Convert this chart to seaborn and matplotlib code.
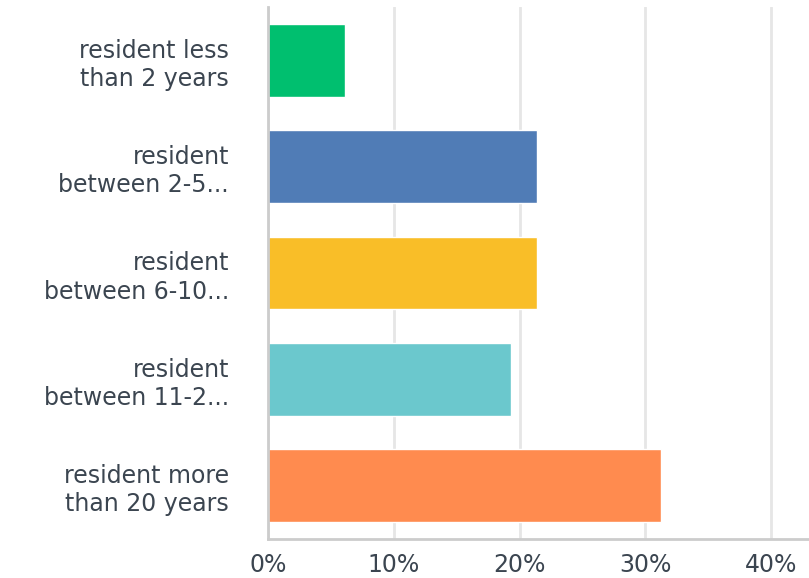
import matplotlib
matplotlib.use("Agg")
import matplotlib.pyplot as plt
import seaborn as sns
import pandas as pd

categories = [
    "resident less\nthan 2 years",
    "resident\nbetween 2-5...",
    "resident\nbetween 6-10...",
    "resident\nbetween 11-2...",
    "resident more\nthan 20 years",
]
values = [6.1, 21.4, 21.4, 19.3, 31.2]
colors = ["#00bf6f", "#507cb6", "#f9be28", "#6bc8cd", "#ff8b4f"]
xticks = [0, 10, 20, 30, 40]
xtick_labels = ["0%", "10%", "20%", "30%", "40%"]

sns.set_style("white")
plt.rcParams['font.family'] = ['DejaVu Sans']

df = pd.DataFrame({"cat": categories, "val": values})

fig = plt.figure(figsize=(8.09, 5.78), dpi=100)
ax = fig.add_axes([268 / 809, 1 - 539 / 578, (809 - 268) / 809, (539 - 7) / 578])

sns.barplot(data=df, y="cat", x="val", hue="cat", palette=colors, legend=False,
            orient="h", width=0.685, ax=ax, saturation=1)

ax.set_xlim(0, 43)
ax.set_ylim(4.5, -0.5)
ax.set_xticks(xticks)
ax.set_xticklabels(xtick_labels)
ax.xaxis.grid(True, color="#e6e6e6", linewidth=2)
ax.set_axisbelow(True)
ax.set_xlabel("")
ax.set_ylabel("")
for s in ["top", "right"]:
    ax.spines[s].set_visible(False)
for s in ["left", "bottom"]:
    ax.spines[s].set_color("#cccccc")
    ax.spines[s].set_linewidth(2)
ax.tick_params(axis="y", length=0, pad=28, labelsize=17, labelcolor="#3b4550")
ax.tick_params(axis="x", length=0, pad=10, labelsize=17, labelcolor="#3b4550")
for lbl in ax.get_yticklabels():
    lbl.set_linespacing(1.22)

fig.savefig("out.png", dpi=100)
